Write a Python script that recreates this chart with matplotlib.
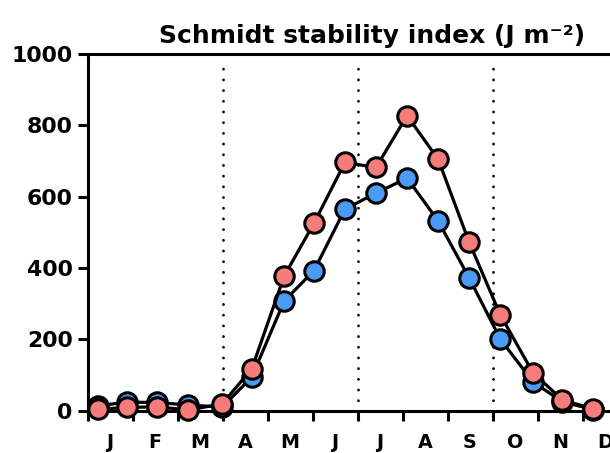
import matplotlib
matplotlib.use("Agg")
import matplotlib.pyplot as plt
import numpy as np

plt.rcParams['font.family'] = ['DejaVu Sans']
plt.rcParams['font.weight'] = 'bold'

# Sampling day of year and Schmidt stability (J m^-2) for the two series
sample_day = [7, 27, 47, 68, 91, 111, 133, 153, 174, 195, 216, 237, 258, 279, 301, 321, 342]
stability_blue = [14, 24, 23, 16, 10, 94, 308, 392, 565, 610, 652, 532, 372, 201, 81, 25, 3]
stability_red = [4, 9, 11, 2, 19, 117, 378, 525, 696, 682, 827, 705, 472, 269, 107, 30, 5]
month_labels = ['J', 'F', 'M', 'A', 'M', 'J', 'J', 'A', 'S', 'O', 'N', 'D']
season_bounds = [3, 6, 9]  # months where dotted separators are drawn
y_ticks = [0, 200, 400, 600, 800, 1000]

MONTH = 365 / 12
x_months = np.array(sample_day) / MONTH

fig = plt.figure(figsize=(6.10, 4.53), dpi=100)
ax = fig.add_axes([87.5 / 610, 42.3 / 453, 540 / 610, 356.7 / 453])

for m in season_bounds:
    ax.plot([m, m], [0, 985], color='black', lw=2.0,
            linestyle=(0, (0.05, 3.8)), dash_capstyle='round', zorder=1)

ax.plot(x_months, stability_blue, color='black', lw=2.3, marker='o', ms=14,
        markerfacecolor='#4B9BF5', markeredgecolor='black', markeredgewidth=2.2,
        zorder=3, clip_on=False)
ax.plot(x_months, stability_red, color='black', lw=2.3, marker='o', ms=14,
        markerfacecolor='#F67B7B', markeredgecolor='black', markeredgewidth=2.2,
        zorder=4, clip_on=False)

ax.set_xlim(0, 12)
ax.set_ylim(0, 1000)

ax.set_xticks(np.arange(0, 13))
ax.set_xticklabels([])
ax.set_xticks(np.arange(12) + 0.5, minor=True)
ax.set_xticklabels(month_labels, minor=True, fontsize=13.8, fontweight='bold')
ax.tick_params(axis='x', which='major', length=7.2, width=2.2, direction='out')
ax.tick_params(axis='x', which='minor', length=0, pad=16)

ax.set_yticks(y_ticks)
ax.set_yticklabels([str(v) for v in y_ticks], fontsize=15.8, fontweight='bold')
ax.tick_params(axis='y', length=7.2, width=2.2, pad=3.5)

for side in ['left', 'bottom', 'top']:
    ax.spines[side].set_linewidth(2.2)
ax.spines['right'].set_visible(False)

fig.text(372 / 610, 1 - 43.5 / 453, 'Schmidt stability index (J m\u207b\u00b2)',
         ha='center', va='baseline', fontsize=18, fontweight='bold')

fig.savefig('out.png', dpi=100)
